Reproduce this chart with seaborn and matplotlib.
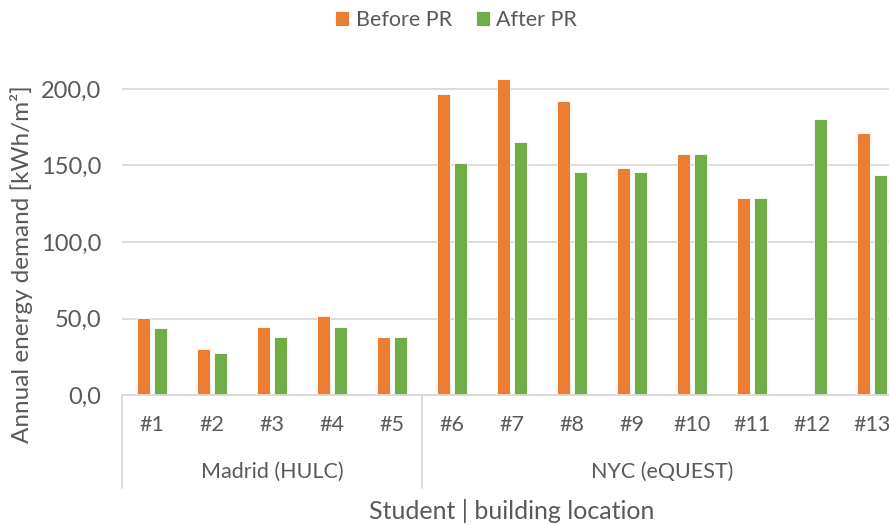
import numpy as np
import pandas as pd
import matplotlib.pyplot as plt
import seaborn as sns

# data
students = ['#1', '#2', '#3', '#4', '#5', '#6', '#7', '#8', '#9', '#10', '#11', '#12', '#13']
locations = ['Madrid (HULC)', 'NYC (eQUEST)']
location_sizes = [5, 8]
before_pr = [50.1, 30.3, 44.4, 51.8, 38.1, 196.5, 206.5, 192.3, 148.6, 157.7, 128.7, np.nan, 171.0]
after_pr = [43.8, 27.2, 38.1, 44.2, 37.7, 151.8, 165.1, 145.9, 145.9, 157.7, 128.7, 180.6, 144.0]
series = ['Before PR', 'After PR']
yticks = [0, 50, 100, 150, 200]

sns.set_style("white")
plt.rcParams['font.family'] = ['Lato', 'DejaVu Sans']
text_col = '#595959'
grid_col = '#d9d9d9'
tick_fs = 15.5

df = pd.DataFrame({
    'student': students * 2,
    'value': before_pr + after_pr,
    'series': [series[0]] * len(students) + [series[1]] * len(students),
})

fig = plt.figure(figsize=(8.89, 5.25), dpi=100)
ax = fig.add_axes([122 / 889, 1 - 395 / 525, 780 / 889, 336.6 / 525])

sns.barplot(data=df, x='student', y='value', hue='series', order=students,
            hue_order=series, palette=['#ED7D31', '#70AD47'], saturation=1,
            width=0.58, gap=0.22, edgecolor='white', linewidth=0.6, ax=ax)

ax.set_xlim(-0.5, len(students) - 0.5)
ax.set_ylim(0, 220)
ax.set_yticks(yticks)
ax.set_yticklabels([f"{v:.1f}".replace('.', ',') for v in yticks])
ax.tick_params(axis='y', length=0, pad=15, labelsize=17, labelcolor=text_col)
ax.set_xticks([])
ax.set_xlabel('')
ax.set_ylabel('Annual energy demand [kWh/m²]', fontsize=17.5, color=text_col)
ax.yaxis.set_label_coords(-0.114, 0.388)
ax.yaxis.grid(True, color=grid_col, lw=1.3)
ax.set_axisbelow(True)
for s in ['top', 'right', 'left']:
    ax.spines[s].set_visible(False)
ax.spines['bottom'].set_color(grid_col)
ax.spines['bottom'].set_linewidth(1.3)

# two-level category axis
trans = ax.get_xaxis_transform()
for i, name in enumerate(students):
    ax.text(i, -0.089, name, transform=trans, ha='center', va='center',
            fontsize=tick_fs, color=text_col)
start = 0
bounds = [-0.5]
for loc, n in zip(locations, location_sizes):
    ax.text(start + (n - 1) / 2, -0.229, loc, transform=trans, ha='center', va='center',
            fontsize=15.5, color=text_col)
    start += n
    bounds.append(start - 0.5)
for b in bounds:
    ax.plot([b, b], [0, -0.276], transform=trans, color=grid_col, lw=1.3, clip_on=False)

ax.text(0.5, -0.345, 'Student | building location', transform=ax.transAxes,
        ha='center', va='center', fontsize=18, color=text_col)

handles, labels = ax.get_legend_handles_labels()
ax.get_legend().remove()
fig.legend(handles, labels, loc='center', bbox_to_anchor=(0.513, 0.962), ncol=2,
           frameon=False, handlelength=0.65, handleheight=0.65, handletextpad=0.3,
           columnspacing=1.1, fontsize=tick_fs, labelcolor=text_col)

fig.savefig('out.png', dpi=100)
